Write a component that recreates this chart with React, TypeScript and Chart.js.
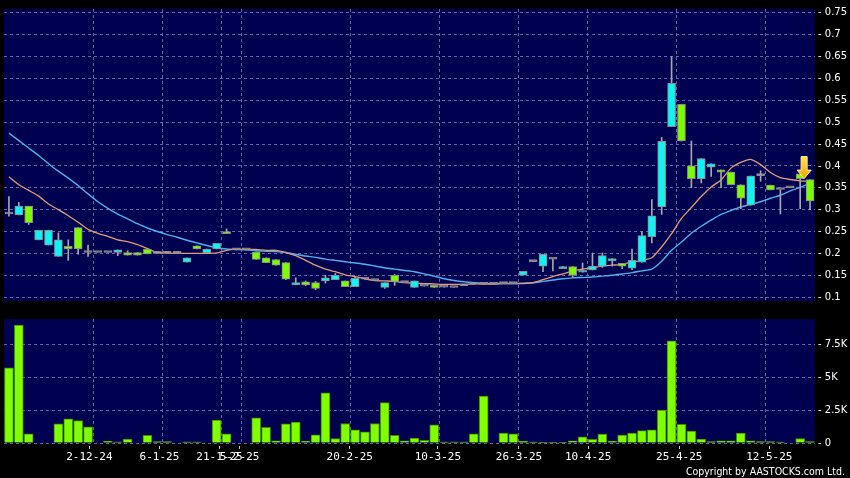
import React, { useEffect, useRef } from 'react';
import { Chart, registerables } from 'chart.js';

Chart.register(...registerables);

// ---- data (index = trading session) ----
const opens = [
  0.29, 0.288, 0.308, 0.231, 0.219, 0.193, 0.216, 0.259, 0.202, 0.202,
  0.202, 0.202, 0.202, 0.202, 0.21, 0.2, 0.2, 0.2, 0.18, 0.217,
  0.201, 0.21, 0.25, 0.208, 0.208, 0.203, 0.19, 0.186, 0.179, 0.128,
  0.135, 0.133, 0.137, 0.14, 0.137, 0.124, 0.141, 0.138, 0.122, 0.15,
  0.133, 0.122, 0.125, 0.127, 0.123, 0.122, 0.126, 0.13, 0.13, 0.13,
  0.131, 0.131, 0.15, 0.181, 0.171, 0.187, 0.165, 0.17, 0.157, 0.162,
  0.171, 0.183, 0.177, 0.166, 0.18, 0.238, 0.306, 0.49, 0.541, 0.4,
  0.371, 0.397, 0.391, 0.386, 0.357, 0.31, 0.378, 0.356, 0.346, 0.35,
  0.382, 0.369,
];
const highs = [
  0.33, 0.317, 0.308, 0.253, 0.253, 0.247, 0.231, 0.259, 0.219, 0.202,
  0.202, 0.208, 0.206, 0.202, 0.21, 0.2, 0.2, 0.2, 0.19, 0.217,
  0.21, 0.223, 0.256, 0.208, 0.208, 0.203, 0.19, 0.186, 0.179, 0.144,
  0.137, 0.136, 0.15, 0.154, 0.137, 0.145, 0.141, 0.138, 0.133, 0.152,
  0.133, 0.137, 0.125, 0.127, 0.123, 0.122, 0.126, 0.134, 0.13, 0.13,
  0.131, 0.131, 0.159, 0.181, 0.198, 0.187, 0.17, 0.17, 0.178, 0.201,
  0.201, 0.188, 0.177, 0.21, 0.25, 0.323, 0.465, 0.65, 0.541, 0.457,
  0.417, 0.405, 0.391, 0.386, 0.357, 0.377, 0.389, 0.356, 0.346, 0.35,
  0.382, 0.369,
];
const lows = [
  0.285, 0.288, 0.266, 0.231, 0.219, 0.193, 0.184, 0.198, 0.193, 0.202,
  0.202, 0.195, 0.196, 0.196, 0.199, 0.2, 0.2, 0.2, 0.18, 0.21,
  0.201, 0.21, 0.245, 0.208, 0.208, 0.186, 0.179, 0.173, 0.14, 0.128,
  0.126, 0.117, 0.132, 0.14, 0.124, 0.124, 0.141, 0.138, 0.12, 0.127,
  0.133, 0.122, 0.125, 0.122, 0.123, 0.122, 0.126, 0.13, 0.13, 0.13,
  0.131, 0.131, 0.15, 0.181, 0.158, 0.16, 0.165, 0.145, 0.157, 0.162,
  0.168, 0.171, 0.165, 0.163, 0.18, 0.224, 0.289, 0.49, 0.457, 0.35,
  0.361, 0.376, 0.35, 0.357, 0.302, 0.31, 0.365, 0.345, 0.29, 0.35,
  0.302, 0.3,
];
const closes = [
  0.29, 0.308, 0.27, 0.253, 0.253, 0.231, 0.21, 0.21, 0.202, 0.202,
  0.202, 0.208, 0.196, 0.196, 0.199, 0.2, 0.2, 0.2, 0.19, 0.21,
  0.21, 0.223, 0.245, 0.208, 0.208, 0.186, 0.179, 0.173, 0.141, 0.133,
  0.128, 0.12, 0.144, 0.15, 0.124, 0.143, 0.141, 0.138, 0.133, 0.136,
  0.133, 0.137, 0.125, 0.122, 0.123, 0.122, 0.126, 0.134, 0.13, 0.13,
  0.131, 0.131, 0.159, 0.181, 0.198, 0.187, 0.17, 0.15, 0.16, 0.171,
  0.195, 0.188, 0.171, 0.184, 0.241, 0.286, 0.456, 0.589, 0.457, 0.371,
  0.417, 0.405, 0.386, 0.357, 0.326, 0.377, 0.378, 0.345, 0.346, 0.35,
  0.371, 0.32,
];
const volumes = [
  5740, 9010, 710, 0, 0, 1470, 1850, 1720, 1240, 0,
  150, 80, 300, 0, 580, 100, 100, 0, 80, 80,
  0, 1750, 710, 0, 0, 1930, 1190, 175, 1470, 1600,
  150, 630, 3830, 330, 1490, 1010, 860, 1490, 3090, 580,
  175, 380, 200, 1390, 80, 80, 80, 710, 3580, 0,
  760, 710, 150, 80, 30, 30, 30, 175, 480, 280,
  690, 150, 610, 760, 940, 1010, 2510, 7800, 1420, 910,
  300, 100, 175, 175, 760, 175, 100, 100, 80, 0,
  330, 100,
];
const maShort = [
  0.375, 0.357, 0.344, 0.331, 0.313, 0.3, 0.286, 0.271, 0.255, 0.246,
  0.239, 0.231, 0.227, 0.22, 0.211, 0.202, 0.201, 0.2, 0.2, 0.2,
  0.2, 0.201, 0.207, 0.209, 0.209, 0.209, 0.207, 0.207, 0.202, 0.195,
  0.184, 0.173, 0.164, 0.158, 0.151, 0.147, 0.142, 0.138, 0.137, 0.136,
  0.133, 0.132, 0.131, 0.13, 0.129, 0.129, 0.129, 0.13, 0.13, 0.13,
  0.131, 0.131, 0.131, 0.133, 0.14, 0.147, 0.153, 0.16, 0.164, 0.167,
  0.171, 0.173, 0.175, 0.18, 0.184, 0.19, 0.215, 0.245, 0.28, 0.305,
  0.33, 0.352, 0.368, 0.395, 0.408, 0.415, 0.403, 0.385, 0.373, 0.369,
  0.366, 0.365,
];
const maLong = [
  0.475, 0.458, 0.441, 0.424, 0.405, 0.388, 0.372, 0.355, 0.336, 0.318,
  0.303, 0.29, 0.279, 0.268, 0.258, 0.25, 0.243, 0.237, 0.23, 0.224,
  0.218, 0.213, 0.21, 0.209, 0.208, 0.206, 0.205, 0.204, 0.202, 0.198,
  0.194, 0.191, 0.187, 0.184, 0.181, 0.178, 0.175, 0.171, 0.167, 0.164,
  0.161, 0.158, 0.153, 0.148, 0.142, 0.138, 0.135, 0.133, 0.132, 0.131,
  0.131, 0.131, 0.132, 0.133, 0.136, 0.139, 0.142, 0.144, 0.145, 0.146,
  0.148, 0.15, 0.153, 0.156, 0.16, 0.164, 0.182, 0.207, 0.226, 0.246,
  0.262, 0.276, 0.289, 0.298, 0.306, 0.312, 0.318, 0.326, 0.333, 0.343,
  0.351, 0.36,
];
const tickLabels = ['2-12-24', '6-1-25', '21-1-25', '5-2-25', '20-2-25', '10-3-25', '26-3-25', '10-4-25', '25-4-25', '12-5-25'];
const tickPos = [8.13, 15.22, 21.29, 23.32, 34.46, 43.37, 51.57, 58.56, 67.77, 76.88];
const gridPos = [8.5, 15.5, 21.5, 23.5, 34.5, 43.5, 51.5, 58.5, 67.5, 76.5];
const priceTicks = [0.1, 0.15, 0.2, 0.25, 0.3, 0.35, 0.4, 0.45, 0.5, 0.55, 0.6, 0.65, 0.7, 0.75];
const volumeTicks = [0, 2500, 5000, 7500];
const arrowMark = { index: 80.4, value: 0.371 };

// ---- styles ----
const PLOT_BG = '#000050';
const GRID = '#66669e';
const UP = '#12f2f2';
const DOWN = '#7cfc00';
const DOJI = '#a0a0a0';
const X_MIN = -0.5;
const X_MAX = 81.5;

const plotBg = {
  id: 'plotBg',
  beforeDraw(chart: any) {
    const { ctx, chartArea } = chart;
    ctx.save();
    ctx.fillStyle = PLOT_BG;
    ctx.fillRect(chartArea.left, chartArea.top, chartArea.right - chartArea.left, chartArea.bottom - chartArea.top);
    ctx.restore();
  },
};

const arrowPlugin = {
  id: 'arrowMark',
  afterDatasetsDraw(chart: any) {
    const { ctx } = chart;
    const x = chart.scales.x.getPixelForValue(arrowMark.index);
    const tip = chart.scales.y.getPixelForValue(arrowMark.value);
    const top = tip - 22;
    const headTop = tip - 8.5;
    ctx.save();
    const g = ctx.createLinearGradient(0, top, 0, tip);
    g.addColorStop(0, '#ffe14a');
    g.addColorStop(1, '#f5a000');
    ctx.beginPath();
    ctx.moveTo(x - 3, top);
    ctx.lineTo(x + 3, top);
    ctx.lineTo(x + 3, headTop);
    ctx.lineTo(x + 7, headTop);
    ctx.lineTo(x, tip);
    ctx.lineTo(x - 7, headTop);
    ctx.lineTo(x - 3, headTop);
    ctx.closePath();
    ctx.fillStyle = g;
    ctx.fill();
    ctx.strokeStyle = '#fff2a8';
    ctx.lineWidth = 1;
    ctx.stroke();
    ctx.restore();
  },
};

const fmtPrice = (v: number) => '- ' + String(Number(v.toFixed(2)));
const fmtVol = (v: number) => '- ' + (v === 0 ? '0' : String(v / 1000) + 'K');

export default function App() {
  const mainRef = useRef<HTMLCanvasElement>(null);
  const volRef = useRef<HTMLCanvasElement>(null);

  useEffect(() => {
    const bodyColors = opens.map((o, i) => (closes[i] > o ? UP : closes[i] < o ? DOWN : DOJI));
    const main = new Chart(mainRef.current as HTMLCanvasElement, {
      type: 'bar',
      data: {
        datasets: [
          {
            type: 'bar',
            data: opens.map((o, i) => ({ x: i, y: [o, closes[i]] })) as any,
            backgroundColor: bodyColors,
            borderColor: '#8c8c8c',
            borderWidth: 1,
            borderSkipped: false,
            barThickness: 8,
            minBarLength: 2,
            grouped: false,
            order: 0,
          },
          {
            type: 'bar',
            data: lows.map((l, i) => ({ x: i, y: [l, highs[i]] })) as any,
            backgroundColor: '#a8a8a8',
            borderWidth: 0,
            barThickness: 1,
            grouped: false,
            order: 1,
          },
          {
            type: 'line',
            data: maShort.map((v, i) => ({ x: i, y: v })) as any,
            borderColor: '#e59a78',
            borderWidth: 1.3,
            pointRadius: 0,
            tension: 0.2,
            order: 2,
          },
          {
            type: 'line',
            data: maLong.map((v, i) => ({ x: i, y: v })) as any,
            borderColor: '#4fb0ee',
            borderWidth: 1.4,
            pointRadius: 0,
            tension: 0.2,
            order: 3,
          },
        ],
      },
      options: {
        responsive: false,
        animation: false,
        devicePixelRatio: 1,
        events: [],
        layout: { padding: { left: 4, top: 5, right: 0, bottom: 4 } },
        plugins: { legend: { display: false }, tooltip: { enabled: false } },
        scales: {
          x: {
            type: 'linear',
            min: X_MIN,
            max: X_MAX,
            offset: false,
            afterBuildTicks: (s: any) => { s.ticks = gridPos.map((v) => ({ value: v })); },
            afterFit: (s: any) => { s.height = 0; },
            ticks: { display: false },
            grid: { color: GRID, drawTicks: false, offset: false },
            border: { display: false, dash: [3, 3] },
          },
          y: {
            type: 'linear',
            position: 'right',
            min: 0.0911,
            max: 0.7589,
            afterBuildTicks: (s: any) => { s.ticks = priceTicks.map((v) => ({ value: v })); },
            afterFit: (s: any) => { s.width = 35; },
            ticks: {
              color: '#ffffff',
              padding: 3,
              font: { family: 'DejaVu Sans', size: 10 },
              callback: (v: any) => fmtPrice(Number(v)),
            },
            grid: { color: GRID, drawTicks: false },
            border: { display: false, dash: [3, 3] },
          },
        },
      } as any,
      plugins: [plotBg, arrowPlugin],
    });

    const vol = new Chart(volRef.current as HTMLCanvasElement, {
      type: 'bar',
      data: {
        datasets: [
          {
            data: volumes.map((v, i) => ({ x: i, y: v })) as any,
            backgroundColor: '#80ff00',
            borderColor: '#3f8a00',
            borderWidth: 1,
            barThickness: 9,
            grouped: false,
          },
        ],
      },
      options: {
        responsive: false,
        animation: false,
        devicePixelRatio: 1,
        events: [],
        layout: { padding: { left: 4, top: 9, right: 0, bottom: 0 } },
        plugins: { legend: { display: false }, tooltip: { enabled: false } },
        scales: {
          x: {
            type: 'linear',
            position: 'bottom',
            weight: 0,
            min: X_MIN,
            max: X_MAX,
            offset: false,
            afterBuildTicks: (s: any) => { s.ticks = gridPos.map((v) => ({ value: v })); },
            afterFit: (s: any) => { s.height = 3; },
            ticks: { display: false },
            grid: { color: GRID, drawTicks: false, offset: false },
            border: { display: false, dash: [3, 3] },
          },
          xl: {
            type: 'linear',
            position: 'bottom',
            weight: 1,
            min: X_MIN,
            max: X_MAX,
            offset: false,
            afterBuildTicks: (s: any) => { s.ticks = tickPos.map((v) => ({ value: v })); },
            afterFit: (s: any) => { s.height = 32; },
            ticks: {
              color: '#ffffff',
              padding: 2,
              maxRotation: 0,
              autoSkip: false,
              font: { family: 'DejaVu Sans Mono', size: 11 },
              callback: (_v: any, idx: number) => tickLabels[idx],
            },
            grid: { drawOnChartArea: false, drawTicks: true, tickLength: 3, tickColor: '#c8c8c8', offset: false },
            border: { display: false },
          },
          y: {
            type: 'linear',
            position: 'right',
            min: 0,
            max: 9474,
            afterBuildTicks: (s: any) => { s.ticks = volumeTicks.map((v) => ({ value: v })); },
            afterFit: (s: any) => { s.width = 35; },
            ticks: {
              color: '#ffffff',
              padding: 3,
              font: { family: 'DejaVu Sans', size: 10 },
              callback: (v: any) => fmtVol(Number(v)),
            },
            grid: { color: GRID, drawTicks: false },
            border: { display: false, dash: [3, 3] },
          },
        },
      } as any,
      plugins: [plotBg],
    });

    return () => {
      main.destroy();
      vol.destroy();
    };
  }, []);

  return (
    <div style={{ position: 'absolute', left: 0, top: 0, width: 850, height: 478, background: '#000', overflow: 'hidden' }}>
      <canvas ref={mainRef} width={850} height={310} style={{ position: 'absolute', left: 0, top: 0, width: 850, height: 310 }} />
      <canvas ref={volRef} width={850} height={168} style={{ position: 'absolute', left: 0, top: 310, width: 850, height: 168 }} />
      <div
        style={{
          position: 'absolute',
          right: 5,
          top: 465,
          color: '#ffffff',
          fontFamily: "'DejaVu Sans Condensed', 'DejaVu Sans', sans-serif",
          fontStretch: 'condensed',
          fontSize: '10.5px',
          lineHeight: '13px',
          whiteSpace: 'nowrap',
        }}
      >
        Copyright by AASTOCKS.com Ltd.
      </div>
    </div>
  );
}
